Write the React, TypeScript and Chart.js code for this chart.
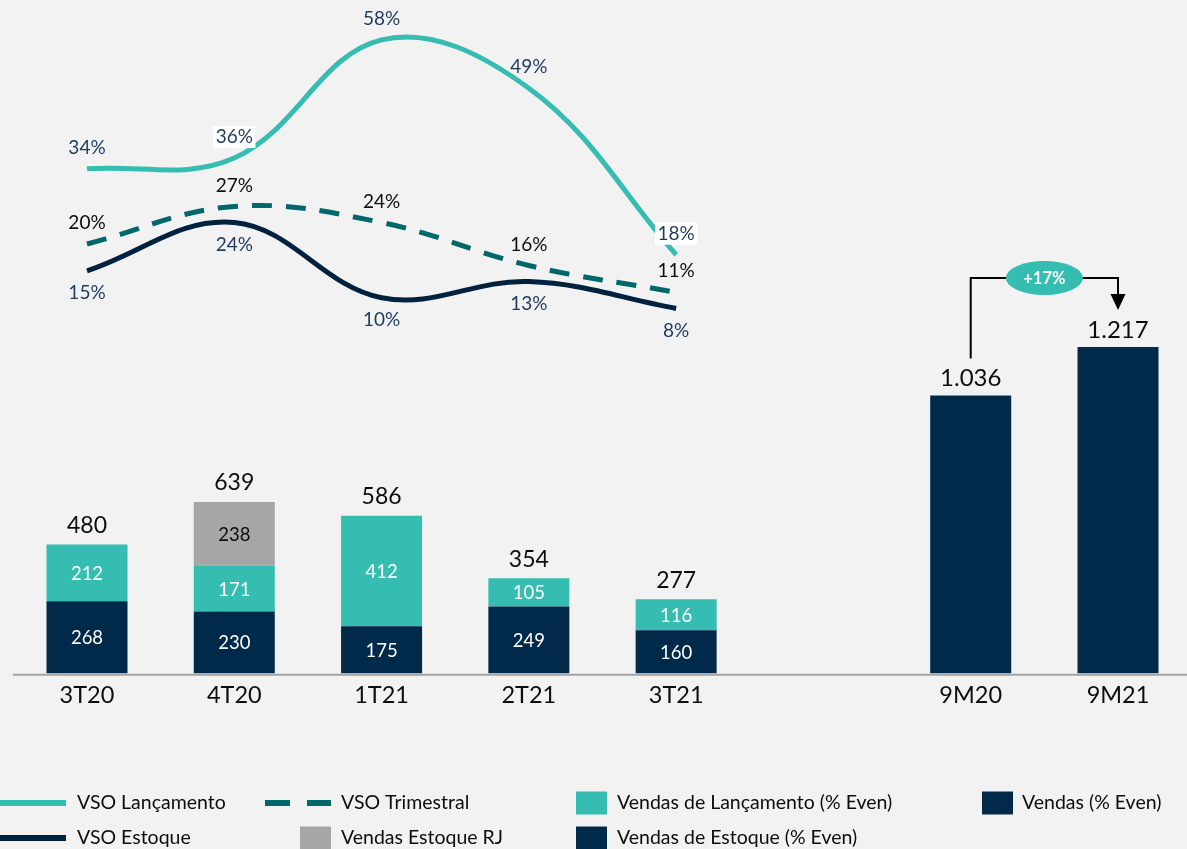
import React, { useEffect, useRef } from "react";
import { Chart, registerables } from "chart.js";

Chart.register(...registerables);

// ---------- data ----------
const categories = ["3T20", "4T20", "1T21", "2T21", "3T21", "", "9M20", "9M21"];
const vendasEstoque = [268, 230, 175, 249, 160, null, null, null];
const vendasLancamento = [212, 171, 412, 105, 116, null, null, null];
const vendasEstoqueRJ = [null, 238, null, null, null, null, null, null];
const vendasTotalTrimestre = [480, 639, 586, 354, 277, null, null, null];
const vendas9M = [null, null, null, null, null, null, 1036, 1217];
const vsoLancamento = [34, 36, 58, 49, 18, null, null, null];
const vsoTrimestral = [20, 27, 24, 16, 11, null, null, null];
const vsoEstoque = [15, 24, 10, 13, 8, null, null, null];
const boxedLancamentoLabels = [1, 4];

// ---------- styles ----------
const FONT = "Lato, 'Open Sans', sans-serif";
const NAVY = "#012A4A";
const TEAL = "#35BDB1";
const GRAY = "#A6A6A6";
const DARK_TEAL = "#00676A";
const NAVY_LINE = "#00223F";
const LABEL_NAVY = "#1F3A5C";
const TEXT = "#0D0D0D";
const BG = "#F2F2F2";

function fmtThousands(v: number): string {
  const s = String(Math.round(v));
  return s.replace(/\B(?=(\d{3})+(?!\d))/g, ".");
}

const customPlugin = {
  id: "customDraw",
  beforeDraw(chart: any) {
    const ctx = chart.ctx;
    ctx.save();
    ctx.fillStyle = BG;
    ctx.fillRect(0, 0, chart.width, chart.height);
    ctx.restore();
  },
  afterDatasetsDraw(chart: any) {
    const ctx: CanvasRenderingContext2D = chart.ctx;
    const { x, y, y2 } = chart.scales;
    ctx.save();

    // axis line
    const base = y.getPixelForValue(0);
    ctx.strokeStyle = "#A3A3A3";
    ctx.lineWidth = 2;
    ctx.beginPath();
    ctx.moveTo(13, base + 1.5);
    ctx.lineTo(chart.width, base + 1.5);
    ctx.stroke();

    // segment labels (inside)
    ctx.textAlign = "center";
    ctx.textBaseline = "middle";
    ctx.font = `18.5px ${FONT}`;
    [0, 1, 2].forEach((di) => {
      const ds = chart.data.datasets[di];
      const meta = chart.getDatasetMeta(di);
      meta.data.forEach((bar: any, j: number) => {
        const v = ds.data[j];
        if (v == null) return;
        const p = bar.getProps(["x", "y", "base"], true);
        ctx.fillStyle = di === 2 ? TEXT : "#FFFFFF";
        ctx.fillText(String(v), p.x, (p.y + p.base) / 2 + 1);
      });
    });

    // totals above stacks
    ctx.fillStyle = TEXT;
    ctx.font = `23px ${FONT}`;
    vendasTotalTrimestre.forEach((total, j) => {
      if (total == null) return;
      const parts = [vendasEstoque[j], vendasLancamento[j], vendasEstoqueRJ[j]].filter((v) => v != null) as number[];
      const stackTop = parts.reduce((a, b) => a + b, 0);
      ctx.fillText(String(total), x.getPixelForValue(j), y.getPixelForValue(stackTop) - 19);
    });
    ctx.font = `24px ${FONT}`;
    vendas9M.forEach((v, j) => {
      if (v == null) return;
      ctx.fillText(fmtThousands(v), x.getPixelForValue(j), y.getPixelForValue(v) - 17);
    });

    // line labels
    ctx.font = `19px ${FONT}`;
    const lineLabel = (arr: (number | null)[], color: string, dy: number, boxed: number[]) => {
      arr.forEach((v, j) => {
        if (v == null) return;
        const px = x.getPixelForValue(j);
        const py = y2.getPixelForValue(v) + dy;
        const t = `${v}%`;
        if (boxed.includes(j)) {
          const w = ctx.measureText(t).width + 5;
          ctx.fillStyle = "#FFFFFF";
          ctx.fillRect(px - w / 2, py - 11, w, 22);
        }
        ctx.fillStyle = color;
        ctx.fillText(t, px, py);
      });
    };
    lineLabel(vsoLancamento, LABEL_NAVY, -21, boxedLancamentoLabels);
    lineLabel(vsoTrimestral, TEXT, -21, []);
    lineLabel(vsoEstoque, LABEL_NAVY, 22, []);

    // growth bracket
    const i0 = vendas9M.findIndex((v) => v != null);
    const i1 = vendas9M.length - 1;
    const v0 = vendas9M[i0] as number;
    const v1 = vendas9M[i1] as number;
    const x0 = x.getPixelForValue(i0);
    const x1 = x.getPixelForValue(i1);
    const startY = y.getPixelForValue(v0) - 37;
    const top1 = y.getPixelForValue(v1);
    const bracketY = top1 - 69;
    const tip = top1 - 37;
    const arrowBase = tip - 16;
    ctx.strokeStyle = "#000000";
    ctx.lineWidth = 2;
    ctx.beginPath();
    ctx.moveTo(x0, startY);
    ctx.lineTo(x0, bracketY);
    ctx.lineTo(x1, bracketY);
    ctx.lineTo(x1, arrowBase + 1);
    ctx.stroke();
    ctx.fillStyle = "#000000";
    ctx.beginPath();
    ctx.moveTo(x1 - 7.5, arrowBase);
    ctx.lineTo(x1 + 7.5, arrowBase);
    ctx.lineTo(x1, tip);
    ctx.closePath();
    ctx.fill();
    const cx = (x0 + x1) / 2;
    ctx.fillStyle = TEAL;
    ctx.beginPath();
    ctx.ellipse(cx, bracketY, 38.5, 17, 0, 0, Math.PI * 2);
    ctx.fill();
    ctx.fillStyle = "#FFFFFF";
    ctx.font = `bold 16.5px ${FONT}`;
    const growth = Math.round((v1 / v0 - 1) * 100);
    ctx.fillText(`+${growth}%`, cx, bracketY + 1);

    ctx.restore();
  },
  afterDraw(chart: any) {
    const ctx: CanvasRenderingContext2D = chart.ctx;
    ctx.save();
    ctx.font = `19.5px ${FONT}`;
    ctx.textAlign = "left";
    ctx.textBaseline = "middle";
    const r1 = 803;
    const r2 = 838;
    type Item = { kind: string; color: string; x: number; y: number; text: string; tx: number };
    const items: Item[] = [
      { kind: "line", color: TEAL, x: 0, y: r1, text: "VSO Lançamento", tx: 77 },
      { kind: "dash", color: DARK_TEAL, x: 265, y: r1, text: "VSO Trimestral", tx: 341 },
      { kind: "box", color: TEAL, x: 576, y: r1, text: "Vendas de Lançamento (% Even)", tx: 617 },
      { kind: "box", color: NAVY, x: 982, y: r1, text: "Vendas (% Even)", tx: 1022 },
      { kind: "line", color: NAVY_LINE, x: 0, y: r2, text: "VSO Estoque", tx: 77 },
      { kind: "box", color: GRAY, x: 300, y: r2, text: "Vendas Estoque RJ", tx: 341 },
      { kind: "box", color: NAVY, x: 576, y: r2, text: "Vendas de Estoque (% Even)", tx: 617 },
    ];
    items.forEach((it) => {
      ctx.fillStyle = it.color;
      if (it.kind === "line") {
        ctx.fillRect(it.x, it.y - 3, 66, 6);
      } else if (it.kind === "dash") {
        ctx.fillRect(it.x, it.y - 3, 25, 6);
        ctx.fillRect(it.x + 42, it.y - 3, 24, 6);
      } else {
        ctx.fillRect(it.x, it.y - 11.5, 31, 23);
      }
      ctx.fillStyle = TEXT;
      ctx.fillText(it.text, it.tx, it.y);
    });
    ctx.restore();
  },
};

export default function App() {
  const ref = useRef<HTMLCanvasElement | null>(null);

  useEffect(() => {
    if (!ref.current) return;
    const lineCommon = {
      type: "line" as const,
      yAxisID: "y2",
      tension: 0.38,
      borderWidth: 5,
      pointRadius: 0,
      pointHoverRadius: 0,
      fill: false,
      borderCapStyle: "butt" as const,
      clip: 10,
    };
    const barCommon = { type: "bar" as const, yAxisID: "y", order: 2, clip: false };
    const chart = new Chart(ref.current, {
      type: "bar",
      data: {
        labels: categories,
        datasets: [
          { ...barCommon, label: "Vendas de Estoque (% Even)", data: vendasEstoque, backgroundColor: NAVY },
          { ...barCommon, label: "Vendas de Lançamento (% Even)", data: vendasLancamento, backgroundColor: TEAL },
          { ...barCommon, label: "Vendas Estoque RJ", data: vendasEstoqueRJ, backgroundColor: GRAY },
          { ...barCommon, label: "Vendas (% Even)", data: vendas9M, backgroundColor: NAVY },
          { ...lineCommon, label: "VSO Lançamento", data: vsoLancamento, borderColor: TEAL, order: 1 },
          { ...lineCommon, label: "VSO Trimestral", data: vsoTrimestral, borderColor: DARK_TEAL, borderDash: [20, 14], order: 1 },
          { ...lineCommon, label: "VSO Estoque", data: vsoEstoque, borderColor: NAVY_LINE, order: 1 },
        ] as any,
      },
      options: {
        responsive: false,
        animation: false,
        devicePixelRatio: 1,
        layout: { padding: { left: 87, right: 69, top: 10, bottom: 131.6 } },
        datasets: { bar: { barPercentage: 0.55, categoryPercentage: 1 } },
        plugins: { legend: { display: false }, tooltip: { enabled: false } },
        scales: {
          x: {
            stacked: true,
            offset: false,
            grid: { display: false, drawTicks: false },
            border: { display: false },
            ticks: { color: TEXT, font: { family: FONT, size: 23.5 }, padding: 8, maxRotation: 0, autoSkip: false },
          },
          y: {
            stacked: true,
            display: false,
            min: 0,
            max: 2474,
          },
          y2: {
            display: false,
            min: -59.9,
            max: 63.56,
          },
        },
      } as any,
      plugins: [customPlugin],
    });
    return () => chart.destroy();
  }, []);

  return (
    <div style={{ position: "fixed", left: 0, top: 0, width: 1187, height: 849, background: BG }}>
      <canvas ref={ref} width={1187} height={849} style={{ display: "block", width: 1187, height: 849 }} />
    </div>
  );
}
